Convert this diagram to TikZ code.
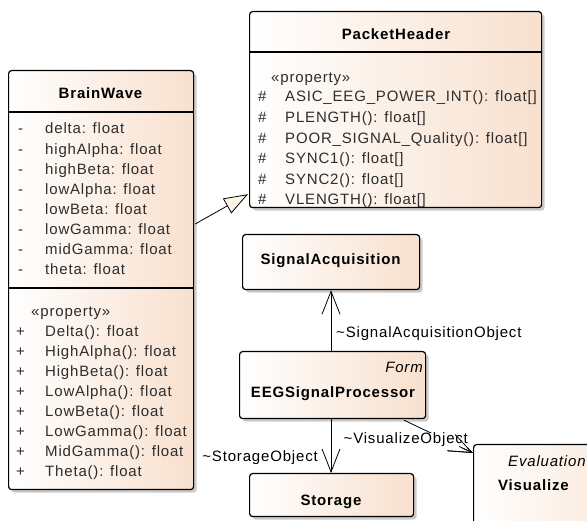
\documentclass[tikz,border=0pt]{standalone}
\usepackage{fontspec}
\setmainfont{Liberation Sans}[LetterSpace=5.5]
\usetikzlibrary{arrows.meta,shadows,calc}
\definecolor{peach}{RGB}{248,224,206}
\definecolor{cream}{RGB}{253,243,226}
\definecolor{txt}{RGB}{45,45,45}
\definecolor{shade}{RGB}{190,190,190}
\newcommand\dsz{\fontsize{15}{18}\selectfont}
\tikzset{
  umlbox/.style={draw=black, line width=1.2pt, rounded corners=3pt,
    left color=white, right color=peach,
    drop shadow={shadow xshift=3pt, shadow yshift=-3pt, fill=shade, opacity=0.8},
    inner sep=0pt, anchor=north west},
  sep/.style={draw=black, line width=1.1pt},
  ttl/.style={font=\dsz\bfseries, anchor=base, inner sep=0pt, text=black},
  ster/.style={font=\dsz\itshape, inner sep=0pt, text=black},
  row/.style={font=\dsz, anchor=base west, inner sep=0pt, text=txt},
  lbl/.style={font=\dsz, inner sep=0pt, text=black},
  assoc/.style={draw=black, line width=0.8pt, -{Straight Barb[length=23pt,width=18pt,line width=0.8pt]}},
  gen/.style={draw=black, line width=0.8pt, -{Triangle[open, length=24pt, width=17pt, fill=cream, line width=0.8pt]}}
}
\begin{document}
\begin{tikzpicture}[x=1pt,y=-1pt]
\useasboundingbox (0,0) rectangle (587,521);
\clip (0,0) rectangle (587,521);
% ---------- BrainWave ----------
\node[umlbox, minimum width=185pt, minimum height=419pt] (bw) at (8,70) {};
\draw[sep] (bw.west |- 0,112) -- (bw.east |- 0,112);
\draw[sep] (bw.west |- 0,288) -- (bw.east |- 0,288);
\node[ttl] (bwt) at (100.5,99) {BrainWave};
\foreach \t [count=\i from 0] in {delta: float, highAlpha: float, highBeta: float, lowAlpha: float, lowBeta: float, lowGamma: float, midGamma: float, theta: float}{
  \node[row] (bwv\i) at (18,134+20.14*\i) {-};
  \node[row] (bwa\i) at (45,134+20.14*\i) {\t};
}
\node[row] (bwp) at (31,317) {«property»};
\foreach \t [count=\i from 0] in {Delta(): float, HighAlpha(): float, HighBeta(): float, LowAlpha(): float, LowBeta(): float, LowGamma(): float, MidGamma(): float, Theta(): float}{
  \node[row] (bwow\i) at (16,337+20*\i) {+};
  \node[row] (bwo\i) at (45,337+20*\i) {\t};
}
% ---------- PacketHeader ----------
\node[umlbox, minimum width=292pt, minimum height=196pt] (ph) at (249,11) {};
\draw[sep] (ph.west |- 0,52) -- (ph.east |- 0,52);
\node[ttl] (pht) at (396,40) {PacketHeader};
\node[row] (php) at (271,83) {«property»};
\foreach \t [count=\i from 0] in {ASIC\_EEG\_POWER\_INT(): float[], PLENGTH(): float[], POOR\_SIGNAL\_Quality(): float[], SYNC1(): float[], SYNC2(): float[], VLENGTH(): float[]}{
  \node[row] (phv\i) at (258,102+20.6*\i) {\#};
  \node[row] (pho\i) at (285,102+20.6*\i) {\t};
}
% ---------- SignalAcquisition ----------
\node[umlbox, minimum width=177pt, minimum height=55pt] (sa) at (242,234) {};
\node[ttl] (sat) at (330.5,265) {SignalAcquisition};
% ---------- EEGSignalProcessor ----------
\node[umlbox, minimum width=186pt, minimum height=67pt] (eeg) at (239,351) {};
\node[ster, anchor=base east] (eegs) at (423,373) {Form};
\node[ttl] (eegt) at (333,398) {EEGSignalProcessor};
% ---------- Storage ----------
\node[umlbox, minimum width=164pt, minimum height=43pt] (st) at (249,473) {};
\node[ttl] (stt) at (331,505) {Storage};
% ---------- Visualize ----------
\node[umlbox, minimum width=200pt, minimum height=150pt] (vis) at (473,444) {};
\node[ster, anchor=base west] (viss) at (508,467) {Evaluation};
\node[ttl, anchor=base west] (vist) at (498,491) {Visualize};
% ---------- connectors ----------
\draw[gen] ($(bw.north east)+(1,154)$) -- ($(ph.south west)+(-1,-14)$);
\draw[assoc] ($(eeg.north west)+(92,0)$) -- ($(sa.south west)+(89,0)$);
\node[lbl, anchor=base west] (l1) at (336,338) {\textasciitilde SignalAcquisitionObject};
\draw[assoc] ($(eeg.south west)+(92,0)$) -- ($(st.north west)+(82,0)$);
\node[lbl, anchor=base east] (l2) at (318,462) {\textasciitilde StorageObject};
\coordinate (vs) at ($(eeg.south west)+(165,1)$);
\coordinate (ve) at ($(vis.north west)+(0,9)$);
\draw[assoc] (vs) -- (ve);
\node[lbl, anchor=base west, fill=white, inner sep=0.5pt] (l3) at (343,444) {\textasciitilde VisualizeObject};
\draw[assoc] ($(vs)!0.8!(ve)$) -- (ve);
\end{tikzpicture}
\end{document}
